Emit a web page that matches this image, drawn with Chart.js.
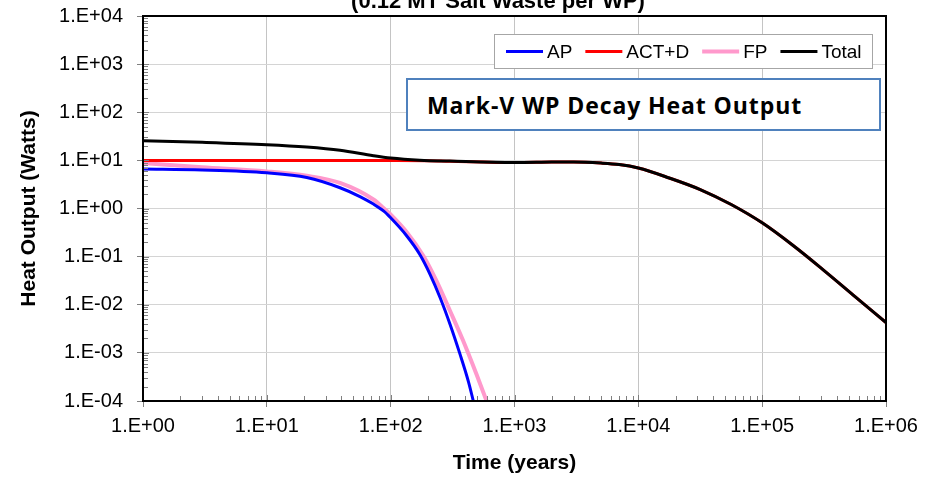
<!DOCTYPE html>
<html><head><meta charset="utf-8">
<script src="https://cdn.jsdelivr.net/npm/chart.js@4.4.1/dist/chart.umd.min.js"></script>
<style>
html,body{margin:0;padding:0;background:#fff;overflow:hidden;}
#wrap{position:relative;width:938px;height:478px;overflow:hidden;background:#fff;}
#c{position:absolute;left:0;top:0;}
#title{position:absolute;left:248px;width:500px;top:-10px;text-align:center;font:bold 22px "Liberation Sans",Arial,sans-serif;line-height:22px;color:#000;white-space:nowrap;}
#note{position:absolute;left:406px;top:78px;width:475px;height:53px;box-sizing:border-box;border:2px solid #4f81bd;background:#fff;font:bold 23px "Open Sans",sans-serif;letter-spacing:0.9px;color:#000;display:flex;align-items:center;padding-left:19px;white-space:nowrap;}
</style></head>
<body>
<div id="wrap">
<canvas id="c" width="938" height="478"></canvas>
<div id="title">(0.12 MT Salt Waste per WP)</div>
<div id="note">Mark-V WP Decay Heat Output</div>
</div>
<script>
// ---- data ----
const xDecades = [1, 10, 100, 1000, 10000, 100000, 1000000];
const yDecades = [1e-4, 1e-3, 1e-2, 1e-1, 1, 10, 100, 1000, 10000];
const seriesNames = ['AP', 'ACT+D', 'FP', 'Total'];

const apYears = [1, 3, 10, 21, 39, 57, 72, 88, 100, 134, 172, 208, 251, 302, 363, 425, 465];
const apWatts = [6.6, 6.3, 5.5, 4.4, 2.7, 1.75, 1.25, 0.88, 0.64, 0.275, 0.111, 0.043, 0.014, 0.0039, 0.00094, 0.00025, 0.0001];

const actYears = [1, 10, 100, 200, 300, 1000, 2000, 3000, 5000, 7000, 10000, 17783, 31623, 56234, 100000, 177828, 316228, 562341, 1000000];
const actWatts = [10.0, 10.0, 9.95, 9.85, 9.6, 9.0, 9.2, 9.25, 8.8, 8.2, 6.94, 4.31, 2.48, 1.21, 0.503, 0.17, 0.0513, 0.0148, 0.00426];

const fpYears = [1, 3, 10, 21, 39, 72.6, 87.5, 100, 134, 184, 235, 302, 385, 495, 595];
const fpWatts = [8.8, 7.2, 5.9, 4.8, 3.4, 1.54, 1.03, 0.75, 0.33, 0.103, 0.031, 0.0074, 0.00178, 0.00035, 0.0001];

const totalYears = [1, 3, 10, 21, 39, 72.6, 100, 172, 300, 1000, 2000, 3000, 5000, 7000, 10000, 17783, 31623, 56234, 100000, 177828, 316228, 562341, 1000000];
const totalWatts = [25.7, 23.8, 21.2, 18.9, 16.2, 12.5, 11.2, 10.1, 9.65, 9.0, 9.2, 9.25, 8.8, 8.2, 6.94, 4.31, 2.48, 1.21, 0.503, 0.17, 0.0513, 0.0148, 0.00426];

const seriesColors = ['#0000ff', '#ff0000', '#ff99cc', '#000000'];

function pts(xs, ys) { return xs.map((x, i) => ({ x: x, y: ys[i] })); }
function sci(v) {
  const n = Math.round(Math.log10(v));
  return '1.E' + (n < 0 ? '-' : '+') + String(Math.abs(n)).padStart(2, '0');
}

const framePlugin = {
  id: 'frame',
  afterDatasetsDraw(chart) {
    const ctx = chart.ctx, a = chart.chartArea;
    const xs = chart.scales.x, ys = chart.scales.y;
    ctx.save();
    // minor ticks
    ctx.strokeStyle = '#808080';
    ctx.lineWidth = 1;
    ctx.beginPath();
    for (let n = -4; n < 4; n++) {
      for (let k = 1; k <= 9; k++) {
        const py = Math.round(ys.getPixelForValue(k * Math.pow(10, n))) + 0.5;
        ctx.moveTo(a.left, py); ctx.lineTo(a.left + (k === 1 ? 6 : 5), py);
      }
    }
    for (let n = 0; n < 6; n++) {
      for (let k = 1; k <= 9; k++) {
        const px = Math.round(xs.getPixelForValue(k * Math.pow(10, n))) + 0.5;
        ctx.moveTo(px, a.bottom); ctx.lineTo(px, a.bottom - (k === 1 ? 6 : 5));
      }
    }
    ctx.stroke();
    // frame
    ctx.strokeStyle = '#000';
    ctx.lineWidth = 2;
    ctx.strokeRect(a.left, a.top, a.right - a.left, a.bottom - a.top);
    // legend
    const bx = 494, by = 34, bw = 378, bh = 34;
    ctx.fillStyle = '#fff';
    ctx.fillRect(bx, by, bw, bh);
    ctx.strokeStyle = '#a6a6a6';
    ctx.lineWidth = 1;
    ctx.strokeRect(bx + 0.5, by + 0.5, bw, bh);
    ctx.font = '19px "Liberation Sans", Arial, sans-serif';
    ctx.textBaseline = 'middle';
    ctx.textAlign = 'left';
    let x = 506;
    const ly = by + bh / 2 + 0.5;
    chart.data.datasets.forEach((ds) => {
      ctx.strokeStyle = ds.borderColor;
      ctx.lineWidth = ds.borderWidth;
      ctx.beginPath(); ctx.moveTo(x, ly); ctx.lineTo(x + 37, ly); ctx.stroke();
      ctx.fillStyle = '#000';
      ctx.fillText(ds.label, x + 41, ly + 1);
      x += 41 + ctx.measureText(ds.label).width + 13;
    });
    ctx.restore();
  }
};

const tickFont = { family: '"Liberation Sans", Arial, sans-serif', size: 20 };
const titleFont = { family: '"Liberation Sans", Arial, sans-serif', size: 21, weight: 'bold', lineHeight: 1.2 };

new Chart(document.getElementById('c'), {
  type: 'line',
  data: {
    datasets: [
      { label: seriesNames[0], data: pts(apYears, apWatts), borderColor: seriesColors[0], borderWidth: 3, order: 2 },
      { label: seriesNames[1], data: pts(actYears, actWatts), borderColor: seriesColors[1], borderWidth: 3, order: 1 },
      { label: seriesNames[2], data: pts(fpYears, fpWatts), borderColor: seriesColors[2], borderWidth: 4, order: 3 },
      { label: seriesNames[3], data: pts(totalYears, totalWatts), borderColor: seriesColors[3], borderWidth: 3, order: 0 }
    ]
  },
  options: {
    responsive: false,
    animation: false,
    devicePixelRatio: 1,
    layout: { padding: { left: 0, right: 52, top: 16, bottom: 0 } },
    elements: { point: { radius: 0 }, line: { cubicInterpolationMode: 'monotone', fill: false } },
    plugins: { legend: { display: false }, tooltip: { enabled: false }, title: { display: false } },
    scales: {
      x: {
        type: 'logarithmic', min: xDecades[0], max: xDecades[xDecades.length - 1],
        afterBuildTicks: s => { s.ticks = xDecades.map(v => ({ value: v })); },
        afterFit: s => { s.height = 77; s.paddingLeft = 0; s.paddingRight = 0; },
        ticks: { callback: v => sci(v), font: tickFont, color: '#000', padding: 7, maxRotation: 0, autoSkip: false },
        grid: { color: '#c4c4c4', lineWidth: 1, tickLength: 6, tickColor: '#808080', drawTicks: true },
        border: { display: false },
        title: { display: true, text: 'Time (years)', font: titleFont, color: '#000', padding: { top: 0, bottom: 2 } }
      },
      y: {
        type: 'logarithmic', min: yDecades[0], max: yDecades[yDecades.length - 1],
        afterBuildTicks: s => { s.ticks = yDecades.map(v => ({ value: v })); },
        afterFit: s => { s.width = 143; s.paddingTop = 0; s.paddingBottom = 0; },
        ticks: { callback: v => sci(v), font: tickFont, color: '#000', padding: 14, autoSkip: false },
        grid: { color: '#d4d4d4', lineWidth: 1, tickLength: 6, tickColor: '#808080', drawTicks: true },
        border: { display: false },
        title: { display: true, text: 'Heat Output (Watts)', font: titleFont, color: '#000', padding: { top: 17, bottom: 0 } }
      }
    }
  },
  plugins: [framePlugin]
});
</script>
</body></html>
